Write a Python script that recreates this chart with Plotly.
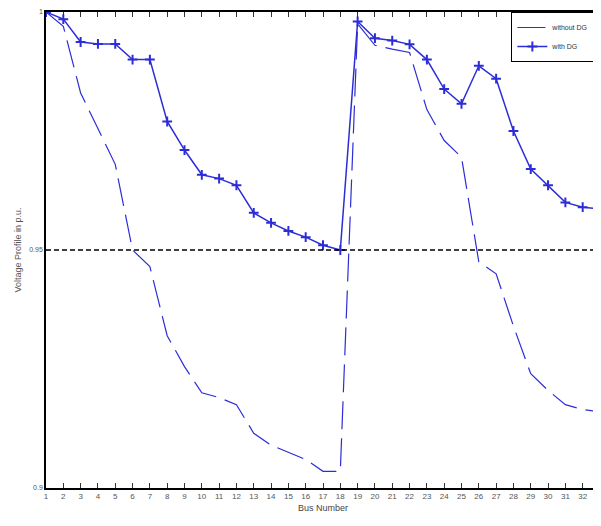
import plotly.graph_objects as go

buses = list(range(1, 34))
without_dg = [1.0, 0.9970, 0.9830, 0.9755, 0.9680, 0.9500, 0.9465, 0.9320, 0.9255, 0.9200,
              0.9190, 0.9175, 0.9115, 0.9090, 0.9075, 0.9060, 0.9035, 0.9035, 0.9975, 0.9930,
              0.9922, 0.9915, 0.9795, 0.9730, 0.9695, 0.9475, 0.9450, 0.9340, 0.9240, 0.9205,
              0.9175, 0.9165, 0.9160]
with_dg = [1.0, 0.9985, 0.9937, 0.9933, 0.9933, 0.9900, 0.9900, 0.9770, 0.9710, 0.9658,
           0.9650, 0.9636, 0.9578, 0.9557, 0.9540, 0.9527, 0.9510, 0.9500, 0.9980, 0.9945,
           0.9940, 0.9932, 0.9900, 0.9838, 0.9807, 0.9887, 0.9860, 0.9750, 0.9670, 0.9636,
           0.9600, 0.9590, 0.9586]
ref_level = 0.95
y_ticks = [0.9, 0.95, 1.0]
y_tick_text = ["0.9", "0.95", "1"]

blue = "rgb(45,45,215)"

fig = go.Figure()
fig.add_trace(go.Scatter(x=buses, y=without_dg, mode="lines", name="without DG",
                         line=dict(color=blue, width=1.2, dash="28px,9px")))
fig.add_trace(go.Scatter(x=buses, y=with_dg, mode="lines+markers", name="with DG",
                         line=dict(color=blue, width=1.5),
                         marker=dict(symbol="cross-thin", size=7, line=dict(color=blue, width=2))))
fig.add_trace(go.Scatter(x=[buses[0], buses[-1]], y=[ref_level, ref_level], mode="lines",
                         showlegend=False, line=dict(color="black", width=1.3, dash="5px,3px")))

fig.update_layout(
    width=593, height=518,
    margin=dict(l=38, r=1, t=4, b=38, autoexpand=False),
    paper_bgcolor="white", plot_bgcolor="white",
    font=dict(family="Liberation Sans, Arial", size=8, color="#444"),
    legend=dict(x=0.84, y=1, xanchor="left", yanchor="top", bgcolor="white",
                bordercolor="black", borderwidth=1, font=dict(size=7, color="#333"),
                tracegroupgap=0, itemwidth=30),
    xaxis=dict(range=[1, 33], tickmode="array", tickvals=buses, ticks="inside", ticklen=5,
               tickcolor="#333", showgrid=False, zeroline=False, showline=True,
               linecolor="black", linewidth=1.5, mirror="ticks", automargin=False,
               title=dict(text="Bus Number", font=dict(size=9, color="#444"), standoff=4),
               tickfont=dict(size=8, color="#555")),
    yaxis=dict(range=[0.9, 1.0], tickmode="array", tickvals=y_ticks, ticktext=y_tick_text,
               ticks="inside", ticklen=4, tickcolor="#333", showgrid=False, zeroline=False,
               showline=True, linecolor="black", linewidth=1.5, mirror=True, automargin=False,
               title=dict(text="Voltage Profile in p.u.", font=dict(size=9, color="#555"), standoff=6),
               tickfont=dict(size=7, color="#555")),
)

fig.write_html("out.html")
